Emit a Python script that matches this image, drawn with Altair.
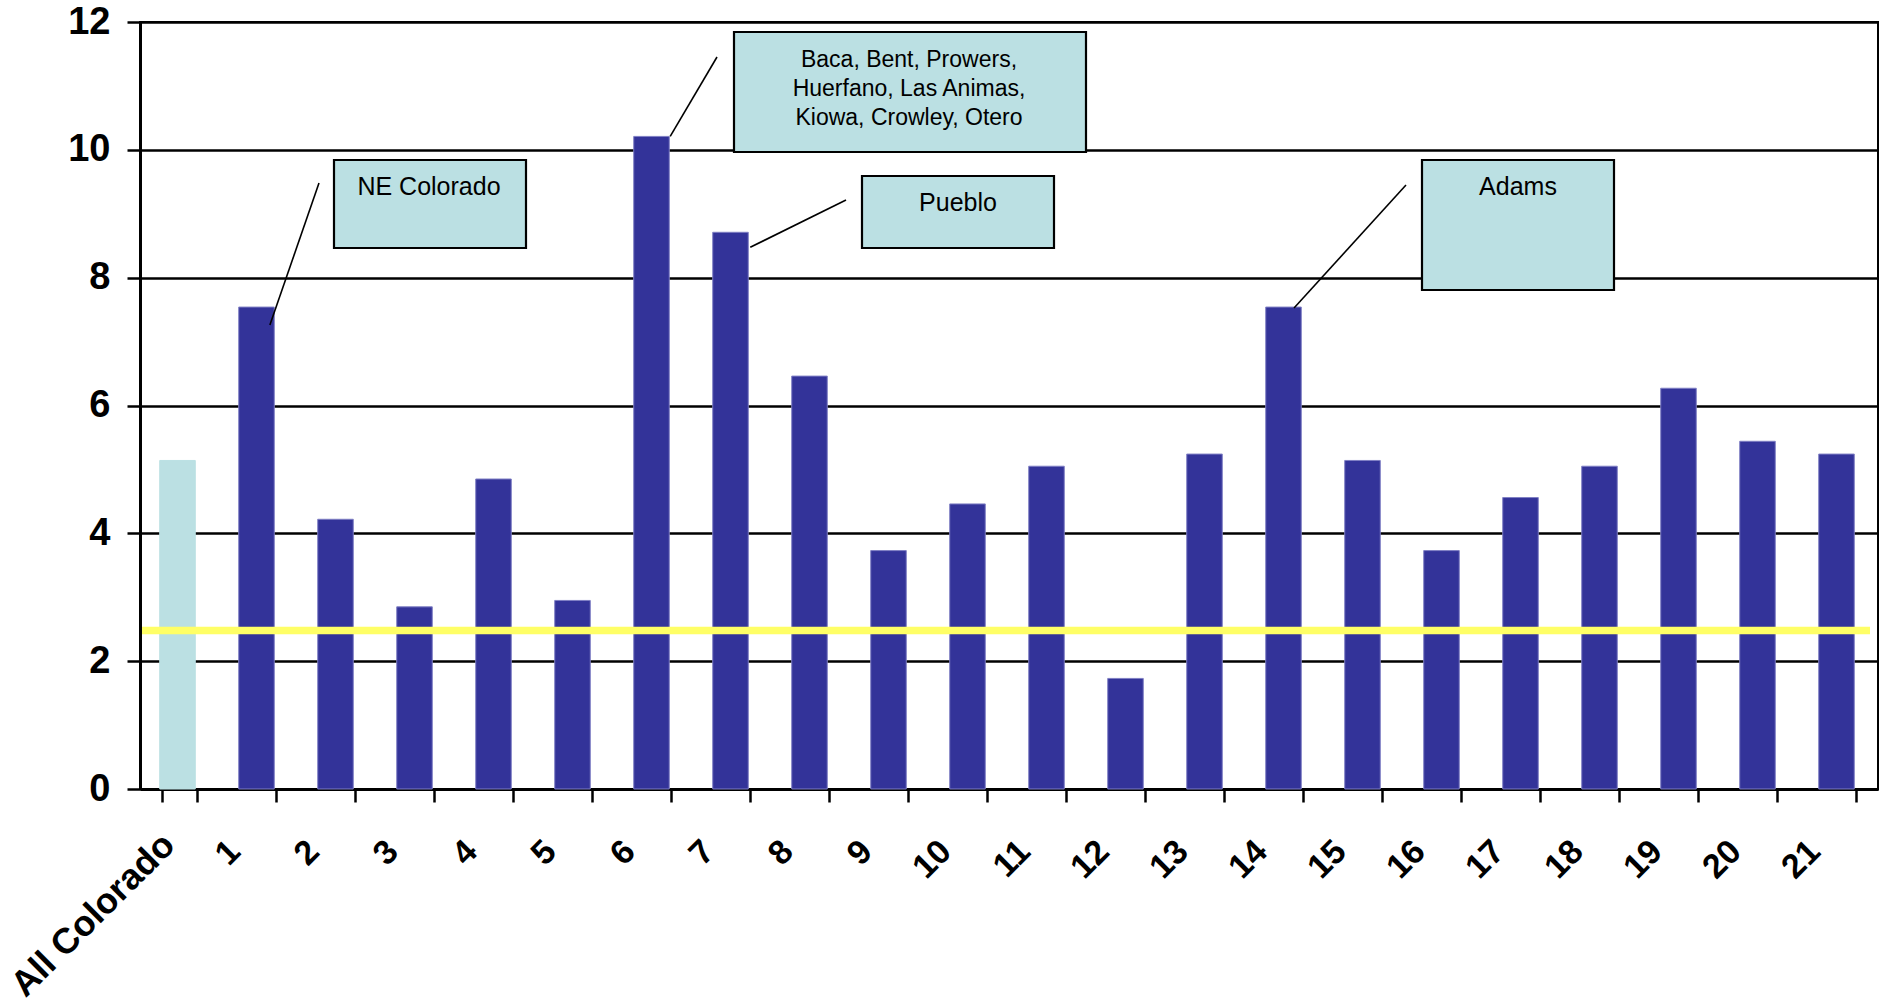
import altair as alt
import pandas as pd

# ---- data -------------------------------------------------------------
categories = ["All Colorado"] + [str(i) for i in range(1, 22)]
rates = [5.14, 7.54, 4.22, 2.85, 4.85, 2.95, 10.21, 8.71, 6.46, 3.73, 4.46,
         5.05, 1.73, 5.24, 7.54, 5.14, 3.73, 4.56, 5.05, 6.27, 5.44, 5.24]
groups = ["state"] + ["region"] * 21
target_level = 2.48
y_ticks = [0, 2, 4, 6, 8, 10, 12]

callout_texts = [
    ["NE Colorado"],
    ["Baca, Bent, Prowers,", "Huerfano, Las Animas,", "Kiowa, Crowley, Otero"],
    ["Pueblo"],
    ["Adams"],
]
callout_targets = ["1", "6", "7", "14"]

# ---- layout (pixels inside the plot area) -----------------------------
W, H = 1738, 767
FONT = "Liberation Sans, Arial, Helvetica, sans-serif"
DARK = "#333399"
LIGHT = "#BBE0E3"

# box: x0, x1, y0, y1 ; text anchor (first line): tx, ty ; font size ;
# leader: band position on target bar, offset below bar top, free end (lx, ly)
callout_layout = [
    dict(box=(194, 386, 138, 226), txt=(289, 165), size=25, band=0.82, dy=18, end=(179, 161)),
    dict(box=(594, 946, 10, 130), txt=(769, 38), size=23, band=0.97, dy=0, end=(577, 35)),
    dict(box=(722, 914, 154, 226), txt=(818, 181), size=25, band=1.0, dy=15, end=(706, 178)),
    dict(box=(1282, 1474, 138, 268), txt=(1378, 165), size=25, band=0.74, dy=1, end=(1266, 163)),
]

df = pd.DataFrame({"region": categories, "rate": rates, "group": groups})

x_scale = alt.Scale(domain=categories, paddingInner=0.55, paddingOuter=0.275)
y_scale = alt.Scale(domain=[0, 12], nice=False, zero=True)

is_total = "datum.value == 'All Colorado'"

bars = alt.Chart(df).mark_bar(strokeWidth=1, xOffset=-2).encode(
    x=alt.X("region:N", scale=x_scale, title=None,
            axis=alt.Axis(labelAngle=-45, labelAlign="right", labelBaseline="middle",
                          labelOffset={"condition": {"test": is_total, "value": -11}, "value": -24},
                          labelPadding={"condition": {"test": is_total, "value": 37}, "value": 44},
                          labelFontSize={"condition": {"test": is_total, "value": 36}, "value": 34},
                          tickBand="extent", labelOverlap=False, labelBound=False,
                          labelFlush=False, labelLimit=0, grid=False)),
    y=alt.Y("rate:Q", scale=y_scale, title=None,
            axis=alt.Axis(values=y_ticks, format="d", grid=True, labelFontSize=38,
                          labelPadding=17)),
    color=alt.Color("group:N", scale=alt.Scale(domain=["state", "region"], range=[LIGHT, DARK]),
                    legend=None),
    stroke=alt.Stroke("group:N", scale=alt.Scale(domain=["state", "region"], range=[LIGHT, "#7f7fc4"]),
                      legend=None),
)

target_line = alt.Chart(pd.DataFrame({"rate": [target_level]})).mark_rule(
    color="#FFFF66", strokeWidth=7.5
).encode(
    y=alt.Y("rate:Q", scale=y_scale),
    x=alt.value(2),
    x2=alt.value(W - 8),
)

layers = [bars, target_line]

for lines, target, lay in zip(callout_texts, callout_targets, callout_layout):
    row = df[df["region"] == target]
    leader = alt.Chart(row).mark_rule(color="black", strokeWidth=1.6, yOffset=lay["dy"]).encode(
        x=alt.X("region:N", scale=x_scale, bandPosition=lay["band"]),
        y=alt.Y("rate:Q", scale=y_scale),
        x2=alt.value(lay["end"][0]),
        y2=alt.value(lay["end"][1]),
    )
    x0, x1, y0, y1 = lay["box"]
    box = alt.Chart(row).mark_rect(fill=LIGHT, stroke="black", strokeWidth=2.2).encode(
        x=alt.value(x0), x2=alt.value(x1), y=alt.value(y0), y2=alt.value(y1),
    )
    label = alt.Chart(row).mark_text(
        font=FONT, fontSize=lay["size"], color="black", align="center",
        baseline="middle", lineHeight=29,
    ).encode(
        x=alt.value(lay["txt"][0]), y=alt.value(lay["txt"][1]),
        text=alt.value(lines if len(lines) > 1 else lines[0]),
    )
    layers += [leader, box, label]

chart = alt.layer(*layers).properties(
    width=W, height=H,
    autosize=alt.AutoSizeParams(type="none"),
    padding={"left": 140, "top": 22, "right": 1, "bottom": 211},
    background="white",
).configure_view(
    stroke="black", strokeWidth=2,
).configure_axis(
    labelFont=FONT, labelFontWeight="bold", labelColor="black",
    domainColor="black", domainWidth=3,
    tickColor="black", tickWidth=2.5, tickSize=13,
    gridColor="black", gridWidth=2.5, gridOpacity=1,
    titleFont=FONT,
)

chart.save("out.html", embed_options={"renderer": "svg", "actions": False})
